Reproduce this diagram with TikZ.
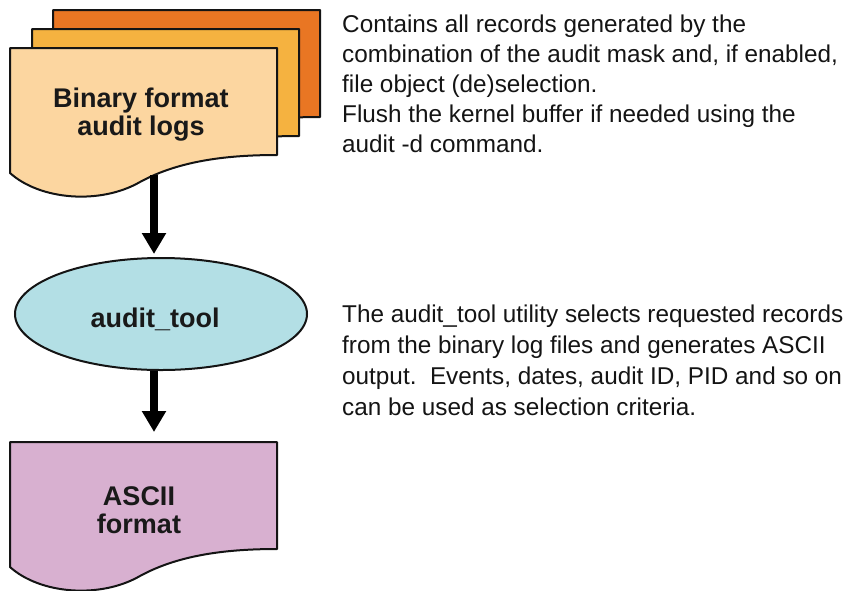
\documentclass[tikz,border=0pt]{standalone}
\usepackage{fontspec}
\setmainfont{Liberation Sans}
\usetikzlibrary{arrows.meta,shapes.geometric}

\definecolor{sheetback}{RGB}{233,118,35}
\definecolor{sheetmid}{RGB}{245,178,64}
\definecolor{sheetfront}{RGB}{252,214,160}
\definecolor{toolfill}{RGB}{179,223,229}
\definecolor{asciifill}{RGB}{216,176,208}
\definecolor{outline}{RGB}{20,20,20}

% document sheet with a wavy lower edge; #1,#2 = top-left corner, #3 = fill
\newcommand\docsheet[3]{%
  \draw[sheetline, fill=#3, shift={(#1,#2)}]
    (0,0) -- (267,0) -- (267,107)
    .. controls (220,107) and (170,112) .. (130,134)
    .. controls (90,157) and (30,152) .. (0,125) -- cycle;}

\begin{document}
\begin{tikzpicture}[x=1pt,y=-1pt,
  sheetline/.style={draw=outline, line width=2pt, line join=round},
  flowarrow/.style={line width=8pt, draw=black,
    -{Triangle[width=23pt,length=21pt]}},
  boxlabel/.style={font=\bfseries\fontsize{27}{28}\selectfont, align=center,
    inner sep=0pt, text=black!90},
  notetext/.style={font=\fontsize{24.3}{30}\selectfont, align=left,
    inner sep=0pt, text=black!92}]

\useasboundingbox (0,0) rectangle (866,590);

% stacked binary log files
\docsheet{53}{10}{sheetback}
\docsheet{32}{29}{sheetmid}
\docsheet{10}{48}{sheetfront}
\coordinate (binout) at (154,175);
% base anchor of a multi-line node sits on its last line
\node[boxlabel, anchor=base] (binlabel) at (141,135) {Binary format\\audit logs};

% audit_tool process
\node[ellipse, draw=outline, line width=2pt, fill=toolfill,
  minimum width=292pt, minimum height=112pt, inner sep=0pt] (tool) at (161,314) {};
\node[boxlabel, anchor=base] (toollabel) at (155,327) {audit\_tool};

% ASCII output
\docsheet{10}{442}{asciifill}
\coordinate (asciitop) at (154,442);
\node[boxlabel, anchor=base] (asciilabel) at (139,533) {ASCII\\format};

% flow
\draw[flowarrow, shorten >=3pt] (binout) -- (binout |- tool.north);
\draw[flowarrow, shorten >=10pt] (binout |- tool.south) -- (asciitop);

% notes
\node[notetext, anchor=base west] (note1) at (342,152)
  {Contains all records generated by the\\
   combination of the audit mask and, if enabled,\\
   file object (de)selection.\\
   Flush the kernel buffer if needed using the\\
   audit -d command.};
\node[notetext, anchor=base west, font=\fontsize{24.3}{30.7}\selectfont] (note2) at (342,415)
  {The audit\_tool utility selects requested records\\
   from the binary log files and generates ASCII\\
   output.\ \ Events, dates, audit ID, PID and so on\\
   can be used as selection criteria.};
\end{tikzpicture}
\end{document}
